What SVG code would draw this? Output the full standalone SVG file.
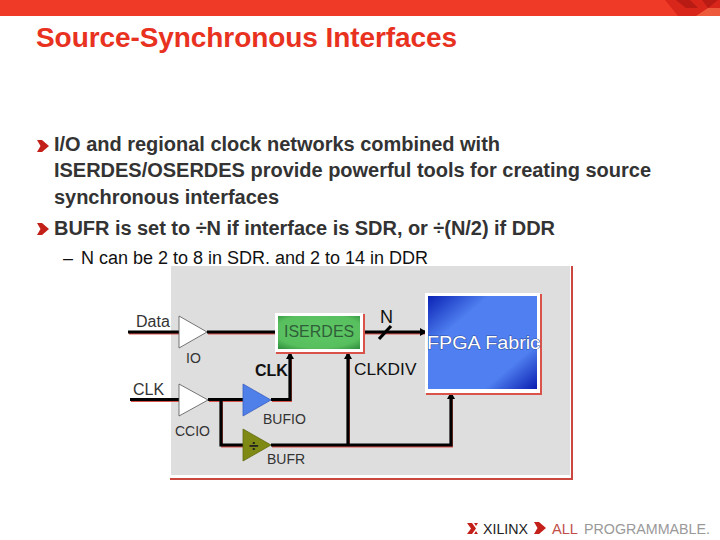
<svg xmlns="http://www.w3.org/2000/svg" width="720" height="540" viewBox="0 0 720 540">
<style>
text{font-family:"Liberation Sans",Arial,sans-serif}
.title{font-size:28px;font-weight:bold;fill:#e8321f}
.b{font-size:20px;font-weight:bold;fill:#333}
.s{font-size:18px;fill:#111}
.l{font-size:16px;fill:#333}
.t{font-size:14px;fill:#333}
.w{fill:none;stroke:#000;stroke-width:3.2}
.sh{fill:none;stroke:#d9534a;stroke-width:2}
.tri{fill:#fff;stroke:#555;stroke-width:.8}
</style>
<defs>
<linearGradient id="blue" x1="0" y1="0" x2="1" y2="1"><stop offset="0" stop-color="#0a22b4"/><stop offset=".28" stop-color="#4f7ff0"/><stop offset=".76" stop-color="#4f7ff0"/><stop offset="1" stop-color="#0a1eb0"/></linearGradient>
<radialGradient id="green" cx=".5" cy=".45" r=".75"><stop offset="0" stop-color="#5fc765"/><stop offset=".7" stop-color="#58bf5e"/><stop offset="1" stop-color="#2c8a3a"/></radialGradient>
<marker id="ah" markerUnits="userSpaceOnUse" markerWidth="8" markerHeight="8" refX="6" refY="4" orient="auto"><path d="M0,0 L7,4 L0,8 Z" fill="#000"/></marker>
<path id="chev" d="M0,0 H5 L12,6 L5,12 H0 L3.5,6 Z"/>
</defs>

<rect x="0" y="0" width="720" height="16" fill="#f03a28"/>
<path d="M665,0 H720 V16 H678 Z" fill="#d8261a"/>
<g fill="#b81a14"><path d="M676,0 H690 L698,8 H686 Z"/><path d="M702,0 H718 L708,8 Z"/></g>
<path d="M696,16 L708,8 H720 V16 Z" fill="#ee5a3c"/>

<text class="title" x="36" y="47" textLength="421">Source-Synchronous Interfaces</text>

<use href="#chev" x="37" y="140" fill="#c4201a"/>
<text class="b" x="54" y="151" textLength="446">I/O and regional clock networks combined with</text>
<text class="b" x="54" y="177" textLength="597">ISERDES/OSERDES provide powerful tools for creating source</text>
<text class="b" x="54" y="204" textLength="225">synchronous interfaces</text>
<use href="#chev" x="37" y="223" fill="#c4201a"/>
<text class="b" x="54" y="235" textLength="501">BUFR is set to ÷N if interface is SDR, or ÷(N/2) if DDR</text>
<text class="s" x="63" y="264">–</text>
<text class="s" x="81" y="264" textLength="347">N can be 2 to 8 in SDR. and 2 to 14 in DDR</text>

<rect id="panel" x="171" y="266" width="399" height="209" fill="#dedede"/>
<path d="M170,479 H572 V266" fill="none" stroke="#c9473f" stroke-width="2"/>

<g id="connectors">
<g class="sh" transform="translate(1,1.5)">
<path d="M128,332 H179 M207,332 H275 M130,399.5 H179 M208,399.5 H243 M271,399.5 H290 V355 M221,399.5 V445 H243 M271,445 H451 V395 M348,445 V355 M363,332 H424"/>
</g>
<path class="w" d="M128,332 H179"/>
<path class="w" d="M207,332 H275"/>
<path class="w" d="M130,399.5 H179"/>
<path class="w" d="M208,399.5 H243"/>
<path class="w" d="M271,399.5 H290 V353" marker-end="url(#ah)"/>
<path class="w" d="M221,399.5 V445 H243"/>
<path class="w" d="M271,445 H451 V393" marker-end="url(#ah)"/>
<path class="w" d="M348,445 V353" marker-end="url(#ah)"/>
<path class="w" d="M363,332 H426" marker-end="url(#ah)"/>
<path class="w" d="M379,339 L391,326"/>
</g>

<g id="io"><path class="tri" d="M179,316 L207,332 L179,348 Z"/><text class="t" x="186" y="363">IO</text></g>
<g id="ccio"><path class="tri" d="M179,384 L208,400 L179,416 Z"/><text class="t" x="175" y="436">CCIO</text></g>
<g id="bufio"><path d="M243,384 L271,400 L243,416 Z" fill="#4f7fe8" stroke="#3a5fc0" stroke-width=".8"/><text class="t" x="263" y="424">BUFIO</text></g>
<g id="bufr"><path d="M243,429 L271,445 L243,461 Z" fill="#7f8a14" stroke="#5f6a10" stroke-width=".8"/><text x="249" y="451" font-size="17" font-weight="bold" fill="#222">÷</text><text class="t" x="267" y="464">BUFR</text></g>

<g id="iserdes">
<rect x="276" y="314" width="89" height="40" fill="#d9534a"/>
<rect x="275" y="313" width="88" height="39" fill="#fff"/>
<rect x="278" y="316" width="82" height="33" fill="url(#green)"/>
<text class="l" x="284" y="337" style="fill:#2f5f38">ISERDES</text>
</g>
<g id="fpga">
<rect x="426" y="294" width="116" height="101" fill="#d9534a"/>
<rect x="425" y="293" width="115" height="100" fill="#fff"/>
<rect x="428" y="296" width="109" height="93" fill="url(#blue)"/>
<text x="427" y="349" font-size="18" fill="#fff" stroke="#2f4f9f" stroke-width="1" paint-order="stroke" textLength="113" lengthAdjust="spacingAndGlyphs">FPGA Fabric</text>
</g>

<g id="labels">
<text class="l" x="136" y="327">Data</text>
<text class="l" x="133" y="395">CLK</text>
<text x="255" y="376" font-size="16" font-weight="bold" fill="#111">CLK</text>
<text x="354" y="375" font-size="17.3" fill="#111">CLKDIV</text>
<text x="380" y="323" font-size="18" fill="#111">N</text>
</g>

<g id="logo">
<path d="M467,523 H472 L476,528.5 L472,534 H467 L471,528.5 Z M474,523 H478 L476,526 Z M474,534 H478 L476,531 Z" fill="#c4201a"/>
<text x="483" y="534" font-size="15.5" fill="#222" textLength="45" lengthAdjust="spacingAndGlyphs">XILINX</text>
<use href="#chev" x="534" y="522" fill="#c4201a"/>
<text x="552" y="534" font-size="15.5" fill="#c0504a" textLength="26" lengthAdjust="spacingAndGlyphs">ALL</text>
<text x="584" y="534" font-size="15.5" fill="#999" textLength="126" lengthAdjust="spacingAndGlyphs">PROGRAMMABLE.</text>
</g>
</svg>
